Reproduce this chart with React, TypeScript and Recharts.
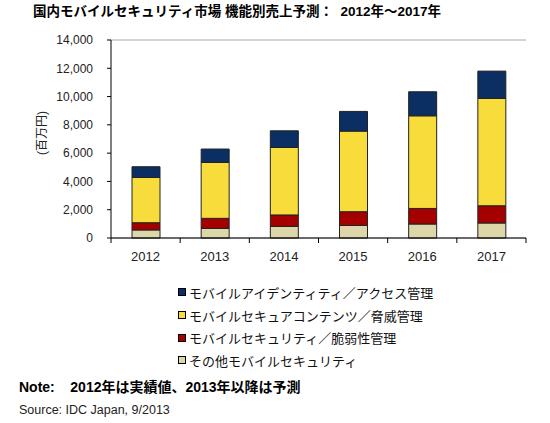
import React from "react";
import {
  BarChart,
  Bar,
  XAxis,
  YAxis,
  CartesianGrid,
} from "recharts";

const years = ["2012", "2013", "2014", "2015", "2016", "2017"];
// 百万円
const other = [570, 680, 820, 890, 990, 1060];
const vulnerability = [510, 710, 810, 970, 1100, 1220];
const content = [3200, 3950, 4770, 5700, 6550, 7590];
const identity = [760, 950, 1180, 1390, 1700, 1930];
const yTicks = [0, 2000, 4000, 6000, 8000, 10000, 12000, 14000];

const series = [
  { key: "other", name: "その他モバイルセキュリティ", color: "#ddd6a8" },
  { key: "vulnerability", name: "モバイルセキュリティ／脆弱性管理", color: "#a50000" },
  { key: "content", name: "モバイルセキュアコンテンツ／脅威管理", color: "#f7dc3c" },
  { key: "identity", name: "モバイルアイデンティティ／アクセス管理", color: "#0b2f63" },
];

const data = years.map((year, i) => ({
  year,
  other: other[i],
  vulnerability: vulnerability[i],
  content: content[i],
  identity: identity[i],
}));

const W = 550;
const H = 423;
const LEFT = 111;
const RIGHT = 24;
const TOP = 40;
const BOTTOM = 185;
const XAXIS_H = 30;
const HALF_BAND = (W - LEFT - RIGHT) / years.length / 2;

const latin = "'Liberation Sans', Arial, sans-serif";
const cjk = "'Liberation Sans', 'Noto Sans CJK JP', sans-serif";

const YearTick = (props: any) => {
  const { x, y, payload, index } = props;
  const last = index === years.length - 1;
  return (
    <g>
      <line x1={x - HALF_BAND} y1={y} x2={x - HALF_BAND} y2={y + 5} stroke="#000" />
      {last && (
        <line x1={x + HALF_BAND} y1={y} x2={x + HALF_BAND} y2={y + 5} stroke="#000" />
      )}
      <text
        x={x}
        y={y + 22.5}
        textAnchor="middle"
        fontSize={13}
        fontFamily={latin}
        fill="#222"
      >
        {payload.value}
      </text>
    </g>
  );
};

export default function App() {
  return (
    <div
      style={{
        position: "absolute",
        left: 0,
        top: 0,
        width: W,
        height: H,
        background: "#fff",
      }}
    >
      <div
        style={{
          position: "absolute",
          left: 33,
          top: 2,
          fontFamily: cjk,
          fontWeight: "bold",
          fontSize: 13.5,
          lineHeight: "20px",
          whiteSpace: "pre",
          color: "#000",
        }}
      >
        国内モバイルセキュリティ市場 機能別売上予測：  2012年～2017年
      </div>
      <div
        style={{
          position: "absolute",
          left: 40,
          top: 133,
          transform: "translate(-50%, -50%) rotate(-90deg)",
          fontFamily: cjk,
          fontSize: 12,
          whiteSpace: "nowrap",
          color: "#222",
        }}
      >
        (百万円)
      </div>
      <BarChart
        width={W}
        height={H}
        data={data}
        margin={{ top: TOP, right: RIGHT, left: 0, bottom: BOTTOM - XAXIS_H }}
        barSize={28}
        style={{ position: "absolute", left: 0, top: 0 }}
      >
        <CartesianGrid vertical={false} stroke="#a8a8a8" />
        <XAxis
          dataKey="year"
          height={XAXIS_H}
          axisLine={{ stroke: "#000" }}
          tickLine={false}
          tickSize={0}
          tickMargin={0}
          tick={<YearTick />}
          interval={0}
        />
        <YAxis
          yAxisId="left"
          width={LEFT}
          domain={[0, 14000]}
          ticks={yTicks}
          axisLine={{ stroke: "#000" }}
          tickLine={{ stroke: "#000" }}
          tickSize={4}
          tickMargin={14}
          tickFormatter={(v: number) => v.toLocaleString("en-US")}
          tick={{ fontSize: 12, fontFamily: latin, fill: "#222" }}
        />
        <YAxis
          yAxisId="right"
          orientation="right"
          width={0}
          domain={[0, 14000]}
          tick={false}
          tickLine={false}
          axisLine={{ stroke: "#a8a8a8" }}
        />
        {series.map((s) => (
          <Bar
            key={s.key}
            yAxisId="left"
            dataKey={s.key}
            name={s.name}
            stackId="a"
            fill={s.color}
            stroke="#222"
            isAnimationActive={false}
          />
        ))}
      </BarChart>
      <div
        style={{
          position: "absolute",
          left: 178,
          top: 281,
          fontFamily: cjk,
          fontSize: 13,
          color: "#111",
        }}
      >
        {[...series].reverse().map((s) => (
          <div
            key={s.key}
            style={{ display: "flex", alignItems: "center", height: 22.7 }}
          >
            <span
              style={{
                display: "inline-block",
                width: 6,
                height: 6,
                background: s.color,
                border: "1px solid #000",
                marginRight: 3,
              }}
            />
            <span>{s.name}</span>
          </div>
        ))}
      </div>
      <div
        style={{
          position: "absolute",
          left: 19,
          top: 377,
          fontFamily: cjk,
          fontWeight: "bold",
          fontSize: 14,
          lineHeight: "20px",
          whiteSpace: "pre",
          color: "#000",
        }}
      >
        Note:    2012年は実績値、2013年以降は予測
      </div>
      <div
        style={{
          position: "absolute",
          left: 19,
          top: 402,
          fontFamily: latin,
          fontSize: 12.5,
          lineHeight: "16px",
          color: "#222",
        }}
      >
        Source: IDC Japan, 9/2013
      </div>
    </div>
  );
}
